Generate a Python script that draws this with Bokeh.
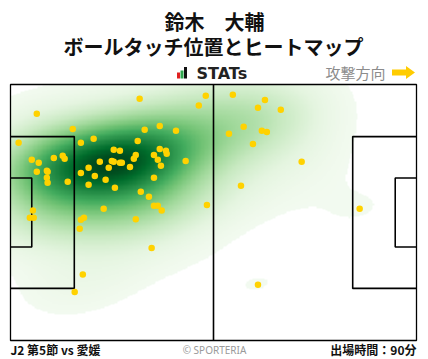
import numpy as np
from bokeh.plotting import figure
from bokeh.models import Range1d, LinearColorMapper
from bokeh.palettes import Greens256
from bokeh.core.properties import value
from bokeh.embed import file_html
from bokeh.resources import INLINE

# ---------------- data (pitch metres, x toward attack, y from bottom touchline) ----
touch_x = [33.4, 50.5, 48.7, 6.8, 16.1, 38.6, 34.7, 42.8, 2.1, 18.2, 21.5, 32.9, 26.7,
           28.3, 38.6, 40.2, 40.4, 37.1, 32.4, 31.9, 38.1, 45.3, 11.2, 13.5, 14.0, 5.5,
           7.3, 23.1, 26.2, 26.7, 28.3, 28.8, 30.9, 38.9, 20.2, 25.4, 6.8, 9.4, 9.6,
           18.2, 21.8, 9.4, 9.6, 14.8, 24.6, 37.1, 20.2, 27.0, 33.7, 35.8, 37.1, 38.1,
           39.1, 50.8, 24.1, 5.8, 5.0, 6.0, 18.2, 19.0, 17.9, 32.4, 36.5, 18.7, 16.6,
           57.5, 65.8, 64.0, 69.9, 60.3, 56.5, 65.0, 66.3, 62.7, 75.3, 59.6, 90.3, 64.0]
touch_y = [64.2, 65.0, 62.4, 60.2, 56.2, 57.0, 56.0, 55.7, 52.5, 52.5, 53.6, 53.0, 50.7,
           50.4, 50.9, 50.4, 49.6, 49.3, 49.3, 48.3, 48.0, 47.7, 48.5, 49.1, 48.3, 48.0,
           47.2, 47.5, 47.7, 47.5, 47.2, 47.2, 46.1, 46.4, 45.9, 45.9, 44.8, 45.1, 44.8,
           44.5, 43.7, 43.2, 41.9, 42.2, 42.7, 43.2, 41.4, 40.6, 39.5, 38.2, 35.8, 35.8,
           34.5, 36.0, 35.0, 34.5, 32.6, 32.6, 32.1, 32.6, 29.7, 32.2, 24.6, 17.5, 12.9,
           65.3, 63.9, 61.8, 61.3, 56.8, 54.9, 55.7, 55.4, 52.2, 47.5, 41.1, 35.0, 14.8]

title_line1 = "鈴木　大輔"
title_line2 = "ボールタッチ位置とヒートマップ"
brand_text = "STATs"
direction_text = "攻撃方向"
match_text = "J2 第5節 vs 愛媛"
credit_text = "© SPORTERIA"
minutes_text = "出場時間：90分"

PITCH_L, PITCH_W = 105.0, 68.0
PEN_D, PEN_W = 16.5, 40.32
GOAL_D, GOAL_W = 5.5, 18.32

# ---------------- layout ----------------
W, H = 428, 359
PX_X = 406 / PITCH_L
PX_Y = 256 / PITCH_W


def pg(px, py):
    """page pixel -> data coordinates"""
    return (px - 10) / PX_X, (340 - py) / PX_Y


x0, y1 = pg(0, 0)
x1, y0 = pg(W, H)

p = figure(width=W, height=H, x_range=Range1d(x0, x1), y_range=Range1d(y0, y1),
           output_backend="svg", toolbar_location=None, min_border=0,
           x_axis_location=None, y_axis_location=None)
p.grid.visible = False
p.outline_line_color = None
p.background_fill_color = "white"
p.border_fill_color = "white"

# ---------------- KDE heat map ----------------
xs = np.array(touch_x)
ys = np.array(touch_y)
pts = np.vstack([xs, ys])
n = pts.shape[1]
fac = 1.3 * n ** (-1.0 / 6.0)
cov = np.cov(pts) * fac ** 2
inv = np.linalg.inv(cov)
gx = np.linspace(0, PITCH_L, 316)
gy = np.linspace(0, PITCH_W, 205)
GX, GY = np.meshgrid(gx, gy)
dx = GX[..., None] - xs
dy = GY[..., None] - ys
q = inv[0, 0] * dx * dx + 2 * inv[0, 1] * dx * dy + inv[1, 1] * dy * dy
dens = np.exp(-0.5 * q).sum(-1) / (n * 2 * np.pi * np.sqrt(np.linalg.det(cov)))

vals = np.sort(dens.ravel())[::-1]
cum = np.cumsum(vals) / vals.sum()
level = vals[np.searchsorted(cum, 0.965)]
img = dens.copy()
img[img < level] = np.nan

mapper = LinearColorMapper(palette=list(reversed(Greens256))[8:], low=level, high=dens.max(),
                           nan_color="rgba(0,0,0,0)")
p.image(image=[img], x=0, y=0, dw=PITCH_L, dh=PITCH_W, color_mapper=mapper)

# ---------------- pitch lines ----------------
lc, lw = "black", 1.6
p.rect(x=[PITCH_L / 2], y=[PITCH_W / 2], width=PITCH_L, height=PITCH_W,
       fill_color=None, line_color=lc, line_width=1.3)
p.line([PITCH_L / 2, PITCH_L / 2], [0, PITCH_W], line_color=lc, line_width=lw)
for gx0, d in ((0, 1), (PITCH_L, -1)):
    for depth, width in ((PEN_D, PEN_W), (GOAL_D, GOAL_W)):
        ylo = (PITCH_W - width) / 2
        yhi = (PITCH_W + width) / 2
        p.line([gx0, gx0 + d * depth, gx0 + d * depth, gx0],
               [ylo, ylo, yhi, yhi], line_color=lc, line_width=lw)

# ---------------- touches ----------------
p.scatter(x=touch_x, y=touch_y, size=6.5, fill_color="#FFD200", line_color=None)

# ---------------- texts ----------------
cjk = value("Noto Sans CJK JP")
tx, ty = pg(214, 21)
p.text(x=[tx], y=[ty], text=[title_line1], text_font=cjk, text_font_size="20px",
       text_font_style="bold", text_align="center", text_baseline="middle", text_color="#111111")
tx, ty = pg(213, 46)
p.text(x=[tx], y=[ty], text=[title_line2], text_font=cjk, text_font_size="20px",
       text_font_style="bold", text_align="center", text_baseline="middle", text_color="#111111")

# STATs logo
bars = [((176.5, 179.5), 72.0, "#E02020"), ((180.0, 183.0), 70.0, "#2FA84F"), ((183.5, 186.5), 66.5, "#111111")]
for (bl, br), btop, bc in bars:
    l, b = pg(bl, 78.0)
    r, t = pg(br, btop)
    p.quad(left=[l], right=[r], bottom=[b], top=[t], fill_color=bc, line_color=None)
tx, ty = pg(196, 73)
p.text(x=[tx], y=[ty], text=[brand_text], text_font=value("DejaVu Sans"), text_font_size="16px",
       text_font_style="bold", text_align="left", text_baseline="middle", text_color="#222222")

# attack direction
tx, ty = pg(385, 72)
p.text(x=[tx], y=[ty], text=[direction_text], text_font=cjk, text_font_size="15px",
       text_align="right", text_baseline="middle", text_color="#8C8C8C")
arrow_px = [(391.5, 69.0), (405.5, 69.0), (405.5, 65.5), (414.5, 72.0),
            (405.5, 78.5), (405.5, 75.0), (391.5, 75.0)]
ax_, ay_ = zip(*[pg(a, b) for a, b in arrow_px])
p.patch(list(ax_), list(ay_), fill_color="#FFCC00", line_color=None)

# footer
tx, ty = pg(10, 349)
p.text(x=[tx], y=[ty], text=[match_text], text_font=cjk, text_font_size="12px",
       text_font_style="bold", text_align="left", text_baseline="middle", text_color="#111111")
tx, ty = pg(214, 349)
p.text(x=[tx], y=[ty], text=[credit_text], text_font=value("Noto Sans"), text_font_size="10px",
       text_align="center", text_baseline="middle", text_color="#9A9A9A")
tx, ty = pg(416, 349)
p.text(x=[tx], y=[ty], text=[minutes_text], text_font=cjk, text_font_size="12px",
       text_font_style="bold", text_align="right", text_baseline="middle", text_color="#111111")

open("out.html", "w").write(file_html(p, INLINE))
